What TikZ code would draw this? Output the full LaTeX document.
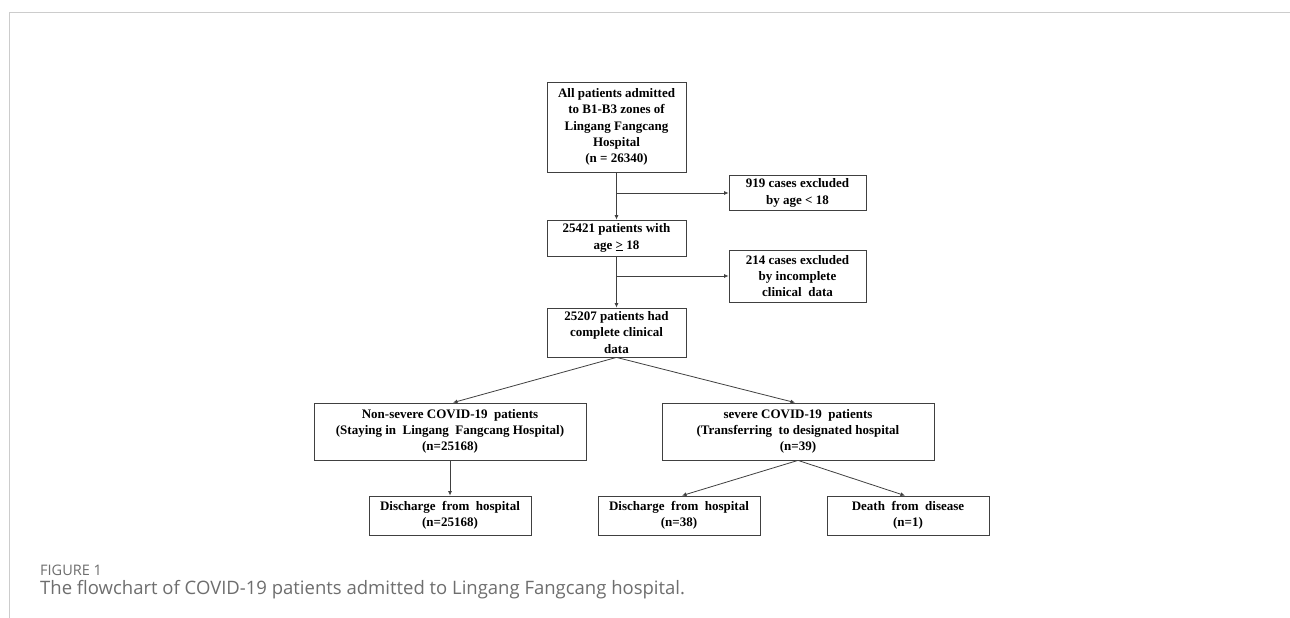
\documentclass[tikz,border=0pt]{standalone}
\usepackage{fontspec}
\setmainfont{Liberation Serif}
\newfontfamily\capfont{Open Sans}
\usetikzlibrary{arrows.meta,calc}
\definecolor{linec}{HTML}{404040}
\definecolor{framec}{HTML}{CCCCCC}
\definecolor{capc}{HTML}{6E6E6E}
\tikzset{
  fbox/.style={draw=linec, line width=0.8pt, align=center, inner sep=0pt,
    font=\fontsize{13}{16.3}\selectfont\bfseries, text=black},
  arr/.style={draw=linec, line width=0.8pt, -{Latex[length=4.5pt,width=4pt]}},
}
\begin{document}
\begin{tikzpicture}[x=1pt,y=-1pt]
\useasboundingbox (0,0) rectangle (1290,618);
\fill[white] (0,0) rectangle (1290,618);
\draw[framec, line width=1pt] (9,618) -- (9,13) -- (1290,13);

\node[fbox, minimum width=139, minimum height=90] (top) at (616.5,127)
  {All patients admitted\\to B1-B3 zones of\\Lingang Fangcang\\Hospital\\(n = 26340)};
\node[fbox, minimum width=137, minimum height=35] (n919) at (797.5,193)
  {919 cases excluded\\by age < 18};
\node[fbox, minimum width=139, minimum height=36] (n25421) at (616.5,238)
  {25421 patients with\\age \underline{>} 18};
\node[fbox, minimum width=137, minimum height=52] (n214) at (797.5,276)
  {214 cases excluded\\by incomplete\\clinical\ \ data};
\node[fbox, minimum width=139, minimum height=49] (n25207) at (616.5,332.5)
  {25207 patients had\\complete clinical\\data};
\node[fbox, minimum width=272, minimum height=57] (nonsev) at (450,431.5)
  {Non-severe COVID-19 \ patients\\(Staying in \ Lingang \ Fangcang Hospital)\\(n=25168)};
\node[fbox, minimum width=272, minimum height=57] (sev) at (798,431.5)
  {severe COVID-19 \ patients\\(Transferring \ to designated hospital\\(n=39)};
\node[fbox, minimum width=162, minimum height=39] (dis1) at (450,515.5)
  {Discharge \ from \ hospital\\(n=25168)};
\node[fbox, minimum width=162, minimum height=39] (dis2) at (679,515.5)
  {Discharge \ from \ hospital\\(n=38)};
\node[fbox, minimum width=162, minimum height=39] (death) at (908,515.5)
  {Death \ from \ disease\\(n=1)};

\draw[arr] (top) -- (n25421);
\draw[arr] (top.south |- n919.west) -- (n919.west);
\draw[arr] (n25421) -- (n25207);
\draw[arr] (n25421.south |- n214.west) -- (n214.west);
\draw[arr] (n25207.south) -- ($(nonsev.north)+(3,0)$);
\draw[arr] (n25207.south) -- ($(sev.north)+(-3,0)$);
\draw[arr] (nonsev) -- (dis1);
\draw[arr] (sev.south) -- ($(dis2.north)+(3,0)$);
\draw[arr] (sev.south) -- ($(death.north)+(-3,0)$);

\node[anchor=base west, inner sep=0pt, text=capc, font=\capfont\fontsize{14.5}{17}\selectfont] (figlab) at (40,575) {FIGURE 1};
\node[anchor=base west, inner sep=0pt, text=capc, font=\capfont\fontsize{18.5}{22}\selectfont] (caption) at (40,594) {The flowchart of COVID-19 patients admitted to Lingang Fangcang hospital.};
\end{tikzpicture}
\end{document}
